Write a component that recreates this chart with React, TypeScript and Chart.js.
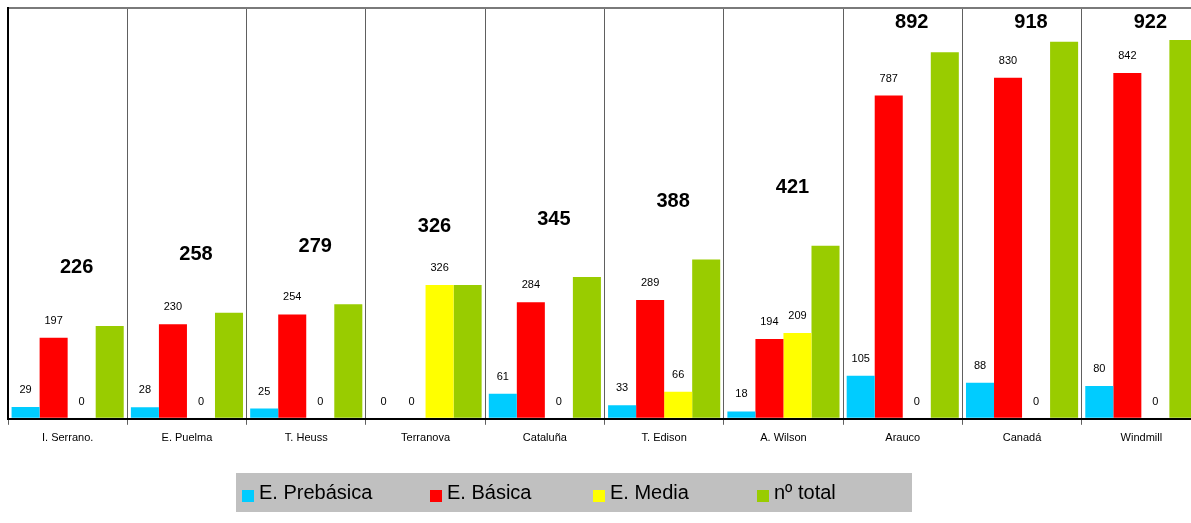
import { useEffect, useRef } from "react";
import { Chart, registerables } from "chart.js";

Chart.register(...registerables);

const categories = ["I. Serrano.", "E. Puelma", "T. Heuss", "Terranova", "Cataluña", "T. Edison", "A. Wilson", "Arauco", "Canadá", "Windmill"];
const prebasica = [29, 28, 25, 0, 61, 33, 18, 105, 88, 80];
const basica = [197, 230, 254, 0, 284, 289, 194, 787, 830, 842];
const media = [0, 0, 0, 326, 0, 66, 209, 0, 0, 0];
const total = [226, 258, 279, 326, 345, 388, 421, 892, 918, 922];
const seriesNames = ["E. Prebásica", "E. Básica", "E. Media", "nº total"];
const seriesColors = ["#00CCFF", "#FF0000", "#FFFF00", "#99CC00"];
const yMin = 0;
const yMax = 1000;

const FONT = "'Liberation Sans', Arial, sans-serif";

const valueLabels = {
  id: "valueLabels",
  afterDatasetsDraw(chart: any) {
    const ctx = chart.ctx;
    ctx.save();
    ctx.textAlign = "center";
    ctx.textBaseline = "middle";
    ctx.fillStyle = "#000";
    ctx.font = `11px ${FONT}`;
    for (let d = 0; d < 3; d++) {
      const meta = chart.getDatasetMeta(d);
      meta.data.forEach((bar: any, i: number) => {
        const v = chart.data.datasets[d].data[i];
        ctx.fillText(String(v), bar.x, bar.y - 17);
      });
    }
    ctx.font = `bold 20px ${FONT}`;
    const gm = chart.getDatasetMeta(3);
    gm.data.forEach((bar: any, i: number) => {
      const v = chart.data.datasets[3].data[i];
      const cx = chart.scales.x.getPixelForValue(i);
      const y = Math.max(chart.chartArea.top + 14, bar.y - 58);
      ctx.fillText(String(v), cx + 9, y);
    });
    ctx.restore();
  },
};

const legendStarts = [242, 430, 593, 757];

const boxLegend = {
  id: "boxLegend",
  afterDraw(chart: any) {
    const ctx = chart.ctx;
    ctx.save();
    ctx.fillStyle = "#C0C0C0";
    ctx.fillRect(236, 473, 676, 39);
    ctx.font = `20px ${FONT}`;
    ctx.textBaseline = "middle";
    ctx.textAlign = "left";
    chart.data.datasets.forEach((ds: any, k: number) => {
      const x = legendStarts[k];
      ctx.fillStyle = ds.backgroundColor;
      ctx.fillRect(x, 490, 12, 12);
      ctx.fillStyle = "#000";
      ctx.fillText(ds.label, x + 17, 493);
    });
    ctx.restore();
  },
};

export default function App() {
  const ref = useRef<HTMLCanvasElement>(null);
  useEffect(() => {
    document.body.style.margin = "0";
    const series = [prebasica, basica, media, total];
    const chart = new Chart(ref.current!, {
      type: "bar",
      data: {
        labels: categories,
        datasets: series.map((s, k) => ({
          label: seriesNames[k],
          data: s,
          backgroundColor: seriesColors[k],
          borderWidth: 0,
          categoryPercentage: 0.94,
          barPercentage: 1,
        })),
      },
      options: {
        responsive: false,
        animation: false,
        devicePixelRatio: 1,
        layout: { padding: { left: 8, top: 8, right: 0, bottom: 71 } },
        plugins: { legend: { display: false }, tooltip: { enabled: false } },
        scales: {
          x: {
            grid: {
              offset: true,
              color: "#606060",
              lineWidth: 1,
              tickLength: 6,
              drawOnChartArea: true,
            },
            border: { display: true, color: "#000", width: 2 },
            ticks: { color: "#000", font: { family: FONT, size: 11 }, padding: 7, maxRotation: 0, autoSkip: false },
          },
          y: {
            min: yMin,
            max: yMax,
            grid: {
              drawTicks: false,
              lineWidth: 2,
              color: (c: any) => (c.tick && c.tick.value === yMax ? "#7a7a7a" : "rgba(0,0,0,0)"),
            },
            border: { display: true, color: "#000", width: 2 },
            ticks: { display: false, stepSize: 1000 },
          },
        },
      },
      plugins: [valueLabels, boxLegend],
    });
    return () => chart.destroy();
  }, []);
  return (
    <div style={{ width: 1191, height: 523, overflow: "hidden", position: "relative", background: "#fff" }}>
      <canvas ref={ref} width={1201} height={523} style={{ display: "block", width: 1201, height: 523 }} />
    </div>
  );
}
